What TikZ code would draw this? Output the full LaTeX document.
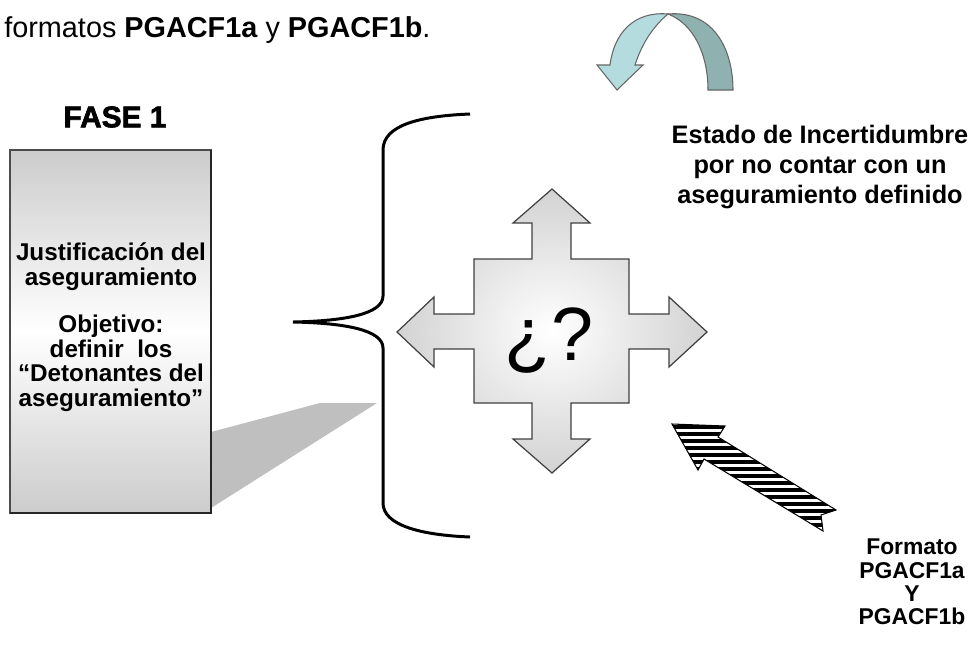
\documentclass[tikz,border=0pt]{standalone}
\usepackage{fontspec}
\setmainfont{Liberation Sans}
\newfontfamily\blackfont{Liberation Sans}[BoldFeatures={FakeBold=2}]

\definecolor{arrowlight}{HTML}{B4DCDE}
\definecolor{arrowdark}{HTML}{8FB1AF}

\begin{document}
\begin{tikzpicture}[x=0.02cm,y=-0.02cm,
  boldtext/.style 2 args={align=center, inner sep=0pt, font=\bfseries\fontsize{#1}{#2}\selectfont}]

\useasboundingbox (0,0) rectangle (976,653);

\node[anchor=base west, inner sep=0pt, font=\fontsize{16.4}{19}\selectfont] (heading) at (4,37) {formatos \textbf{PGACF1a} y \textbf{PGACF1b}.};

% fase 1
\node[font=\blackfont\bfseries\fontsize{17}{20}\selectfont] (fase) at (115,117) {FASE 1};

\fill [gray!50] (211,432) -- (320,403) -- (377,403) -- (211,508) -- cycle;

\shade [top color=gray!40, bottom color=gray!40, middle color=white] (10,150) rectangle (211,513);
\draw [black!70, line width=1pt] (10,150) rectangle (211,513);
\draw [black!85, line width=1.6pt] (10,513) -- (211,513) -- (211,150);

\node[boldtext={13.8}{14}] (justif) at (111,327) {Justificación del\\aseguramiento\\[13pt]Objetivo:\\definir\ \ los\\“Detonantes del\\aseguramiento”};

% llave
\draw [line width=1.7pt] (470,114) .. controls (420,116) and (383,125) .. (383,150) -- (383,296) .. controls (383,314) and (345,321) .. (293,322) .. controls (345,323) and (383,330) .. (383,348) -- (383,503) .. controls (383,525) and (420,535) .. (470,537);

% cruz
\shadedraw [inner color=white, outer color=gray!35, draw=gray!50!black, line width=0.7pt]
  (552,189) -- (590,223) -- (571,223) -- (571,259) -- (629,259) -- (629,314) -- (669,314) -- (669,297) -- (707,332) -- (669,367) -- (669,349) -- (629,349) -- (629,403) -- (571,403) -- (571,439) -- (590,439) -- (552,473) -- (513,439) -- (532,439) -- (532,403) -- (474,403) -- (474,349) -- (434,349) -- (434,367) -- (397,332) -- (434,297) -- (434,314) -- (474,314) -- (474,259) -- (532,259) -- (532,223) -- (513,223) -- cycle;
\node[anchor=base, font=\fontsize{43}{50}\selectfont] (question) at (549,360) {¿?};

% flecha curva
\filldraw [fill=arrowdark, draw=black!60, line width=0.6pt] (668,14) .. controls (714,10) and (733,50) .. (733,90) -- (708,90) .. controls (708,55) and (694,24) .. (668,14) -- cycle;
\filldraw [fill=arrowlight, draw=black!60, line width=0.6pt] (668,14) .. controls (634,11) and (614,33) .. (610,65) -- (597,65) -- (617,90) -- (643,65) -- (635,65) .. controls (643,40) and (656,24) .. (668,14) -- cycle;

\node[boldtext={14.4}{16.8}] (estado) at (820,167) {Estado de Incertidumbre\\por no contar con un\\aseguramiento definido};

% flecha rayada
\begin{scope}
\clip (672,424) -- (725,426) -- (718,437) -- (836,510) -- (821,515) -- (823,531) -- (704,459) -- (698,470) -- cycle;
\foreach \y in {420,427,...,540}
  \draw [line width=2pt] (660,\y) -- (850,\y);
\end{scope}
\draw [line width=0.6pt] (672,424) -- (725,426) -- (718,437) -- (836,510) -- (821,515) -- (823,531) -- (704,459) -- (698,470) -- cycle;

\node[boldtext={13}{13.3}] (formato) at (912,582) {Formato\\PGACF1a\\Y\\PGACF1b};

\end{tikzpicture}
\end{document}
